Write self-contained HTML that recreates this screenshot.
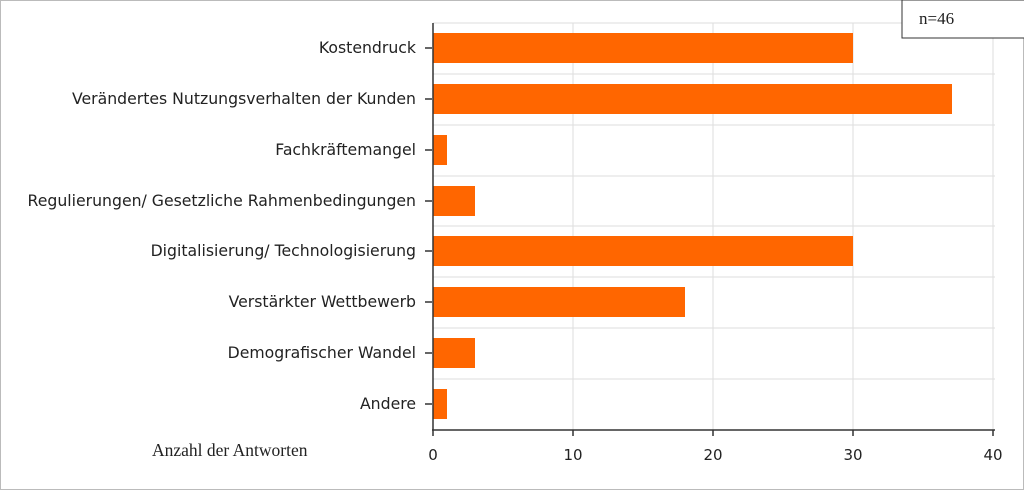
<!DOCTYPE html>
<html><head><style>body{margin:0;background:#fff}svg{display:block}</style></head><body>
<svg width="1024" height="491" xmlns="http://www.w3.org/2000/svg" font-family="'DejaVu Sans', sans-serif">
<rect x="0.5" y="0.5" width="1023" height="489" fill="#fff" stroke="#bbb"/>
<g stroke="#ddd" stroke-width="1">
<line x1="573" y1="23" x2="573" y2="430"/><line x1="713" y1="23" x2="713" y2="430"/><line x1="853" y1="23" x2="853" y2="430"/><line x1="993" y1="23" x2="993" y2="430"/>
<line x1="433" y1="23" x2="995" y2="23"/><line x1="433" y1="74" x2="995" y2="74"/><line x1="433" y1="125" x2="995" y2="125"/><line x1="433" y1="176" x2="995" y2="176"/><line x1="433" y1="226" x2="995" y2="226"/><line x1="433" y1="277" x2="995" y2="277"/><line x1="433" y1="328" x2="995" y2="328"/><line x1="433" y1="379" x2="995" y2="379"/>
</g>
<g fill="#ff6600">
<rect x="433" y="33" width="420" height="30"/>
<rect x="433" y="84" width="519" height="30"/>
<rect x="433" y="135" width="14" height="30"/>
<rect x="433" y="186" width="42" height="30"/>
<rect x="433" y="236" width="420" height="30"/>
<rect x="433" y="287" width="252" height="30"/>
<rect x="433" y="338" width="42" height="30"/>
<rect x="433" y="389" width="14" height="30"/>
</g>
<g stroke="#333" stroke-width="1.5">
<line x1="433" y1="23" x2="433" y2="430"/><line x1="432" y1="430" x2="995" y2="430"/>
<line x1="433" y1="430" x2="433" y2="436"/><line x1="573" y1="430" x2="573" y2="436"/><line x1="713" y1="430" x2="713" y2="436"/><line x1="853" y1="430" x2="853" y2="436"/><line x1="993" y1="430" x2="993" y2="436"/>
<line x1="425" y1="48" x2="432" y2="48"/><line x1="425" y1="99" x2="432" y2="99"/><line x1="425" y1="150" x2="432" y2="150"/><line x1="425" y1="201" x2="432" y2="201"/><line x1="425" y1="251" x2="432" y2="251"/><line x1="425" y1="302" x2="432" y2="302"/><line x1="425" y1="353" x2="432" y2="353"/><line x1="425" y1="404" x2="432" y2="404"/>
</g>
<g font-size="15.7" fill="#222" text-anchor="end">
<text x="416" y="53">Kostendruck</text>
<text x="416" y="104">Verändertes Nutzungsverhalten der Kunden</text>
<text x="416" y="155">Fachkräftemangel</text>
<text x="416" y="206">Regulierungen/ Gesetzliche Rahmenbedingungen</text>
<text x="416" y="256">Digitalisierung/ Technologisierung</text>
<text x="416" y="307">Verstärkter Wettbewerb</text>
<text x="416" y="358">Demografischer Wandel</text>
<text x="416" y="409">Andere</text>
</g>
<g font-size="15" fill="#222" text-anchor="middle">
<text x="433" y="460">0</text><text x="573" y="460">10</text><text x="713" y="460">20</text><text x="853" y="460">30</text><text x="993" y="460">40</text>
</g>
<text x="152" y="456" font-family="'Liberation Serif', serif" font-size="17.5" fill="#222">Anzahl der Antworten</text>
<rect x="902" y="0" width="130" height="38" fill="#fff" stroke="#333"/>
<text x="919" y="24" font-family="'Liberation Serif', serif" font-size="17" fill="#222">n=46</text>
</svg>
</body></html>
